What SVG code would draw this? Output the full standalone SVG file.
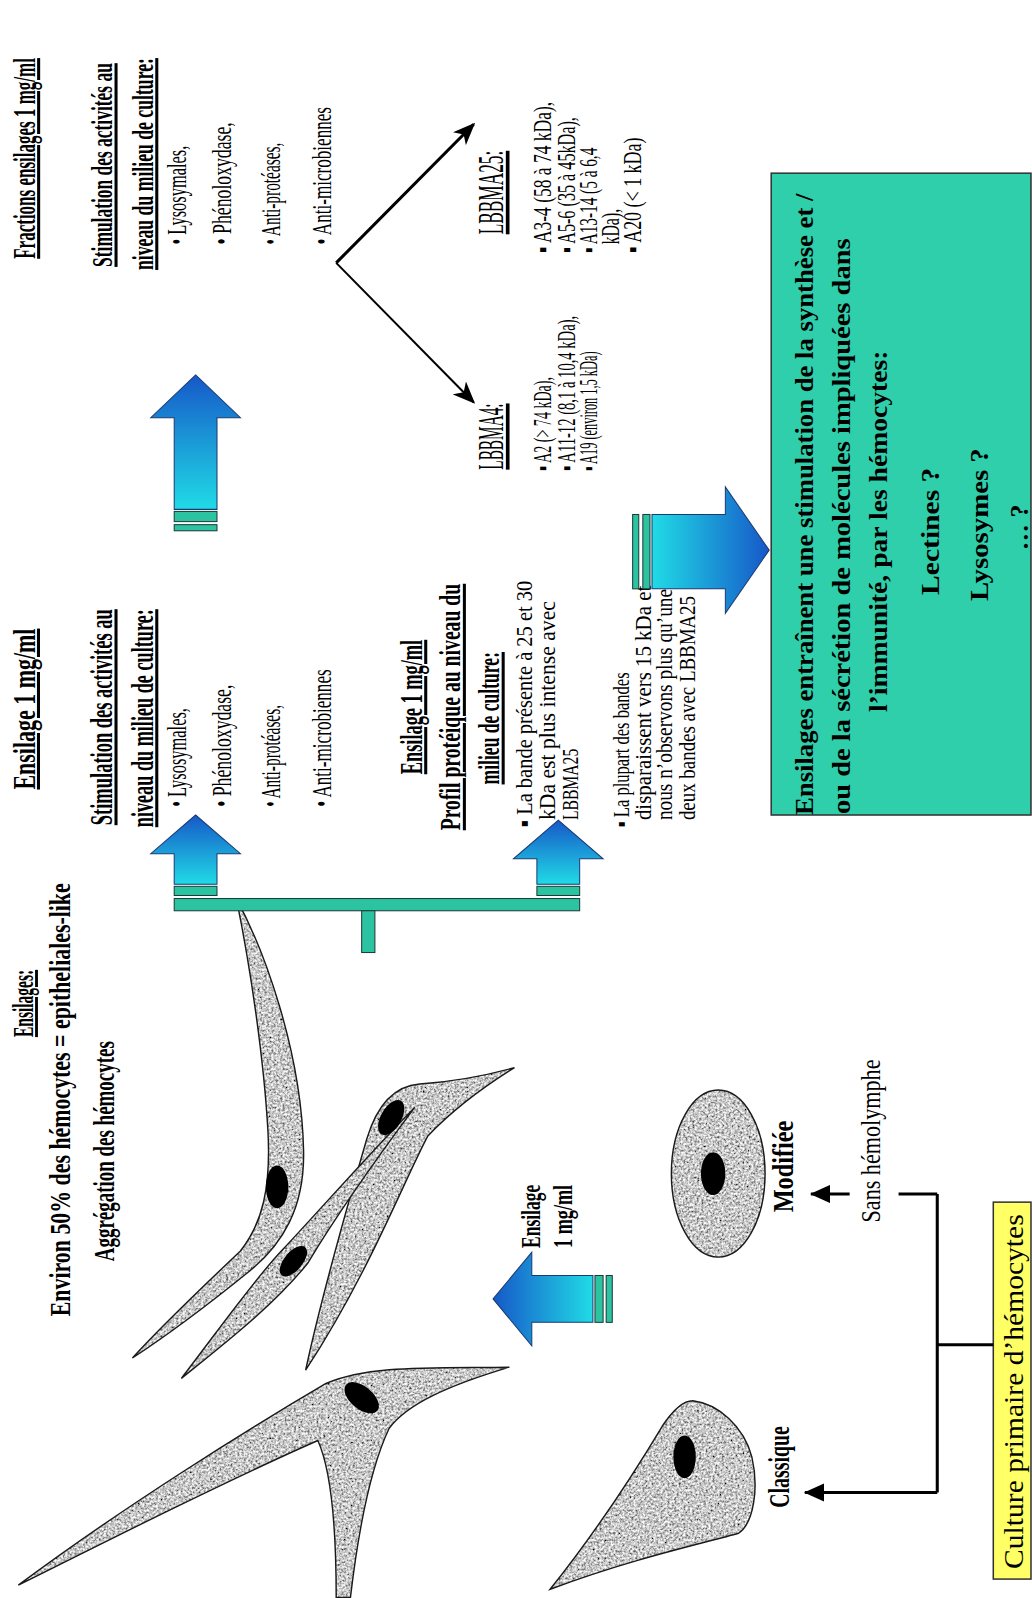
<svg xmlns="http://www.w3.org/2000/svg" width="1032" height="1598" viewBox="0 0 1032 1598">
  <style>
    .t { font-family: "Liberation Serif", "Times New Roman", serif; fill: #000; }
    .b { font-weight: bold; }
    .u { text-decoration: underline; }
    .cellfill { filter: url(#grain); fill: #999; }
    .cellline { fill: none; stroke: #1a1a1a; stroke-width: 1.4; }
    .nuc { fill: #000; }
    .band { fill: #2cc3a0; stroke: #1c3a3a; stroke-width: 1; }
    .blk { fill: none; stroke: #000; stroke-width: 3; }
  </style>
  <defs>
    <linearGradient id="gUp" x1="0" y1="0" x2="0" y2="1">
      <stop offset="0" stop-color="#1658c8"/>
      <stop offset="1" stop-color="#20dbe6"/>
    </linearGradient>
    <linearGradient id="gLeft" x1="0" y1="0" x2="1" y2="0">
      <stop offset="0" stop-color="#1658c8"/>
      <stop offset="1" stop-color="#20dbe6"/>
    </linearGradient>
    <linearGradient id="gRight" x1="1" y1="0" x2="0" y2="0">
      <stop offset="0" stop-color="#1658c8"/>
      <stop offset="1" stop-color="#20dbe6"/>
    </linearGradient>
    <filter id="grain" x="0" y="0" width="100%" height="100%">
      <feTurbulence type="fractalNoise" baseFrequency="0.45" numOctaves="3" seed="5" result="n"/>
      <feColorMatrix in="n" type="matrix" values="1.6 0 0 0 -0.22  1.6 0 0 0 -0.22  1.6 0 0 0 -0.22  0 0 0 0 1" result="g"/>
      <feComposite in="g" in2="SourceGraphic" operator="in"/>
    </filter>
    <marker id="hv" markerUnits="userSpaceOnUse" markerWidth="22" markerHeight="18" viewBox="0 0 22 18" refX="20" refY="9" orient="auto">
      <path d="M0 0 L22 9 L0 18 L6 9 Z" fill="#000"/>
    </marker>
    <marker id="hc" markerUnits="userSpaceOnUse" markerWidth="20" markerHeight="18" viewBox="0 0 20 18" refX="19" refY="9" orient="auto">
      <path d="M0 0 L20 9 L0 18 Z" fill="#000"/>
    </marker>
    <path id="cellA" d="M232 882 C258 930 296 1030 298 1130 C299 1185 278 1222 242 1250 C205 1280 165 1310 130 1333 C160 1300 200 1262 236 1228 C258 1200 266 1165 263 1110 C259 1040 246 950 232 882 Z"/>
    <path id="cellB" d="M178 1353 C215 1305 250 1255 278 1226 C310 1192 360 1135 407 1087 C375 1130 335 1185 302 1240 C270 1280 225 1315 178 1353 Z"/>
    <path id="cellC" d="M300 1345 C316 1270 342 1180 360 1118 C369 1088 385 1066 412 1064 C442 1062 476 1056 505 1048 C476 1066 444 1090 420 1115 C396 1160 362 1250 300 1345 Z"/>
    <path id="cellD" d="M18 1556 C120 1480 240 1405 320 1358 C362 1340 420 1343 500 1342 C440 1360 400 1378 382 1402 C364 1440 352 1500 344 1568 L330 1568 C330 1500 326 1445 312 1414 C230 1450 120 1505 18 1556 Z"/>
    <path id="cellCl" d="M680 1375 C705 1378 730 1400 738 1430 C745 1460 740 1495 725 1505 C690 1515 620 1530 540 1560 C580 1510 620 1450 650 1400 C660 1385 670 1375 680 1375 Z"/>
  </defs>

  <rect x="0" y="0" width="1032" height="1598" fill="#fff"/>

  <g transform="scale(1.01876)">

    <!-- aggregated hemocytes -->
    <g id="cells-aggregated">
      <use href="#cellA" class="cellfill"/><use href="#cellA" class="cellline"/>
      <use href="#cellC" class="cellfill"/><use href="#cellC" class="cellline"/>
      <use href="#cellB" class="cellfill"/><use href="#cellB" class="cellline"/>
      <ellipse class="nuc" cx="272" cy="1165" rx="11" ry="21"/>
      <ellipse class="nuc" cx="288" cy="1238" rx="18" ry="9" transform="rotate(-50 288 1238)"/>
      <ellipse class="nuc" cx="384" cy="1097" rx="19" ry="10" transform="rotate(-60 384 1097)"/>
    </g>
    <g id="cell-epithelial">
      <use href="#cellD" class="cellfill"/><use href="#cellD" class="cellline"/>
      <ellipse class="nuc" cx="355" cy="1372" rx="20" ry="11" transform="rotate(40 355 1372)"/>
    </g>
    <g id="cell-classique">
      <use href="#cellCl" class="cellfill"/><use href="#cellCl" class="cellline"/>
      <ellipse class="nuc" cx="672" cy="1430" rx="11" ry="21"/>
    </g>
    <g id="cell-modifiee">
      <ellipse class="cellfill" cx="705" cy="1152" rx="46" ry="82"/>
      <ellipse class="cellline" cx="705" cy="1152" rx="46" ry="82"/>
      <ellipse class="nuc" cx="700" cy="1152" rx="12" ry="21"/>
    </g>

    <!-- text blocks: written bottom-to-top, condensed type (scale stretches glyph height) -->
    <g id="ensilages-summary">
      <text class="t b u" font-size="15.2" textLength="66" lengthAdjust="spacingAndGlyphs" transform="translate(32 1018) rotate(-90) scale(1 1.84)">Ensilages:</text>
      <text class="t b" font-size="21.2" textLength="425" lengthAdjust="spacingAndGlyphs" transform="translate(69 1292) rotate(-90) scale(1 1.32)">Environ 50% des hémocytes = epitheliales-like</text>
      <text class="t b" font-size="18.6" textLength="216" lengthAdjust="spacingAndGlyphs" transform="translate(112 1238) rotate(-90) scale(1 1.51)">Aggrégation des hémocytes</text>
    </g>

    <g id="ensilage-activites">
      <text class="t b u" font-size="21.5" textLength="158" lengthAdjust="spacingAndGlyphs" transform="translate(34 775) rotate(-90) scale(1 1.4)">Ensilage 1 mg/ml</text>
      <text class="t b u" font-size="18.1" textLength="212" lengthAdjust="spacingAndGlyphs" transform="translate(110 810) rotate(-90) scale(1 1.66)">Stimulation des activités au</text>
      <text class="t b u" font-size="17.8" textLength="214" lengthAdjust="spacingAndGlyphs" transform="translate(150 812) rotate(-90) scale(1 1.69)">niveau du milieu de culture:</text>
      <text class="t" font-size="16" textLength="97" lengthAdjust="spacingAndGlyphs" transform="translate(183 792) rotate(-90) scale(1 1.62)">• Lysosymales,</text>
      <text class="t" font-size="17.4" textLength="120" lengthAdjust="spacingAndGlyphs" transform="translate(227 792) rotate(-90) scale(1 1.49)">• Phénoloxydase,</text>
      <text class="t" font-size="15" textLength="100" lengthAdjust="spacingAndGlyphs" transform="translate(275 792) rotate(-90) scale(1 1.73)">• Anti-protéases,</text>
      <text class="t" font-size="16.7" textLength="135" lengthAdjust="spacingAndGlyphs" transform="translate(325 792) rotate(-90) scale(1 1.56)">• Anti-microbiennes</text>
    </g>

    <g id="fractions-activites">
      <text class="t b u" font-size="16.7" textLength="197" lengthAdjust="spacingAndGlyphs" transform="translate(34 254) rotate(-90) scale(1 1.8)">Fractions ensilages 1 mg/ml</text>
      <text class="t b u" font-size="17.1" textLength="200" lengthAdjust="spacingAndGlyphs" transform="translate(110 262) rotate(-90) scale(1 1.75)">Stimulation des activités au</text>
      <text class="t b u" font-size="17.3" textLength="208" lengthAdjust="spacingAndGlyphs" transform="translate(150 265) rotate(-90) scale(1 1.73)">niveau du milieu de culture:</text>
      <text class="t" font-size="16" textLength="97" lengthAdjust="spacingAndGlyphs" transform="translate(183 240) rotate(-90) scale(1 1.62)">• Lysosymales,</text>
      <text class="t" font-size="17.4" textLength="120" lengthAdjust="spacingAndGlyphs" transform="translate(227 240) rotate(-90) scale(1 1.49)">• Phénoloxydase,</text>
      <text class="t" font-size="15" textLength="100" lengthAdjust="spacingAndGlyphs" transform="translate(275 240) rotate(-90) scale(1 1.73)">• Anti-protéases,</text>
      <text class="t" font-size="16.7" textLength="135" lengthAdjust="spacingAndGlyphs" transform="translate(325 240) rotate(-90) scale(1 1.56)">• Anti-microbiennes</text>
    </g>

    <g id="lbbma4">
      <text class="t u" font-size="15" textLength="65" lengthAdjust="spacingAndGlyphs" transform="translate(494 461) rotate(-90) scale(1 2.4)">LBBMA4:</text>
      <text class="t" font-size="13.2" textLength="92" lengthAdjust="spacingAndGlyphs" transform="translate(541 462) rotate(-90) scale(1 1.82)">▪ A2 (&gt; 74 kDa),</text>
      <text class="t" font-size="13.9" textLength="152" lengthAdjust="spacingAndGlyphs" transform="translate(564 462) rotate(-90) scale(1 1.72)">▪ A11-12 (8,1 à 10,4 kDa),</text>
      <text class="t" font-size="11.7" textLength="117" lengthAdjust="spacingAndGlyphs" transform="translate(586 462) rotate(-90) scale(1 2.05)">▪ A19 (environ 1,5 kDa)</text>
    </g>

    <g id="lbbma25">
      <text class="t u" font-size="17" textLength="82" lengthAdjust="spacingAndGlyphs" transform="translate(494 230) rotate(-90) scale(1 2.12)">LBBMA25:</text>
      <text class="t" font-size="16.6" textLength="148" lengthAdjust="spacingAndGlyphs" transform="translate(541 248) rotate(-90) scale(1 1.45)">▪ A3-4 (58 à 74 kDa),</text>
      <text class="t" font-size="15.3" textLength="133" lengthAdjust="spacingAndGlyphs" transform="translate(564 248) rotate(-90) scale(1 1.57)">▪ A5-6 (35 à 45kDa),</text>
      <text class="t" font-size="14.3" textLength="103" lengthAdjust="spacingAndGlyphs" transform="translate(586 248) rotate(-90) scale(1 1.68)">▪ A13-14 (5 à 6,4</text>
      <text class="t" font-size="15.6" textLength="35" lengthAdjust="spacingAndGlyphs" transform="translate(608 240) rotate(-90) scale(1 1.54)">kDa),</text>
      <text class="t" font-size="16.8" textLength="113" lengthAdjust="spacingAndGlyphs" transform="translate(629 248) rotate(-90) scale(1 1.43)">▪ A20 (&lt; 1 kDa)</text>
    </g>

    <g id="profil-proteique">
      <text class="t b u" font-size="18" textLength="132" lengthAdjust="spacingAndGlyphs" transform="translate(414 760) rotate(-90) scale(1 1.67)">Ensilage 1 mg/ml</text>
      <text class="t b u" font-size="19.3" textLength="242" lengthAdjust="spacingAndGlyphs" transform="translate(452 815) rotate(-90) scale(1 1.55)">Profil protéique au niveau du</text>
      <text class="t b u" font-size="17.2" textLength="130" lengthAdjust="spacingAndGlyphs" transform="translate(490 770) rotate(-90) scale(1 1.74)">milieu de culture:</text>
      <text class="t" font-size="19.7" textLength="242" lengthAdjust="spacingAndGlyphs" transform="translate(522 812) rotate(-90) scale(1 1.18)">▪ La bande présente à 25 et 30</text>
      <text class="t" font-size="21.3" textLength="215" lengthAdjust="spacingAndGlyphs" transform="translate(545 805) rotate(-90) scale(1 1.08)">kDa est plus intense avec</text>
      <text class="t" font-size="15.4" textLength="70" lengthAdjust="spacingAndGlyphs" transform="translate(567 805) rotate(-90) scale(1 1.5)">LBBMA25</text>
      <text class="t" font-size="15.8" textLength="152" lengthAdjust="spacingAndGlyphs" transform="translate(617 812) rotate(-90) scale(1 1.46)">▪ La plupart des bandes</text>
      <text class="t" font-size="20.5" textLength="230" lengthAdjust="spacingAndGlyphs" transform="translate(639 805) rotate(-90) scale(1 1.12)">disparaissent vers 15 kDa et</text>
      <text class="t" font-size="18.9" textLength="240" lengthAdjust="spacingAndGlyphs" transform="translate(660 805) rotate(-90) scale(1 1.22)">nous n’observons plus qu’une à</text>
      <text class="t" font-size="18.5" textLength="220" lengthAdjust="spacingAndGlyphs" transform="translate(682 805) rotate(-90) scale(1 1.25)">deux bandes avec LBBMA25</text>
    </g>

    <g id="conclusion">
      <rect x="757" y="170" width="255" height="630" fill="#2ecfaa" stroke="#333" stroke-width="1.5"/>
      <text class="t b" font-size="25.9" fill="#111" textLength="610" lengthAdjust="spacingAndGlyphs" transform="translate(798 800) rotate(-90) scale(1 0.93)">Ensilages entraînent une stimulation de la synthèse et /</text>
      <text class="t b" font-size="28" fill="#111" textLength="565" lengthAdjust="spacingAndGlyphs" transform="translate(834 799) rotate(-90) scale(1 0.86)">ou de la sécrétion de molécules impliquées dans</text>
      <text class="t b" font-size="27.1" fill="#111" textLength="355" lengthAdjust="spacingAndGlyphs" transform="translate(871 699) rotate(-90) scale(1 0.89)">l’immunité, par les hémocytes:</text>
      <text class="t b" font-size="29.1" fill="#111" textLength="125" lengthAdjust="spacingAndGlyphs" transform="translate(922 584) rotate(-90) scale(1 0.82)">Lectines ?</text>
      <text class="t b" font-size="28" fill="#111" textLength="150" lengthAdjust="spacingAndGlyphs" transform="translate(970 590) rotate(-90) scale(1 0.86)">Lysosymes ?</text>
      <text class="t b" font-size="25.7" fill="#111" textLength="45" lengthAdjust="spacingAndGlyphs" transform="translate(1009 540) rotate(-90) scale(1 0.93)">… ?</text>
    </g>

    <g id="culture-primaire">
      <rect x="975" y="1180" width="37" height="370" fill="#ffff66" stroke="#333" stroke-width="1.5"/>
      <text class="t" font-size="29" textLength="348" lengthAdjust="spacingAndGlyphs" transform="translate(1004 1540) rotate(-90) scale(1 0.9)">Culture primaire d’hémocytes</text>
    </g>

    <g id="labels-culture">
      <text class="t b" font-size="23.8" textLength="90" lengthAdjust="spacingAndGlyphs" transform="translate(778 1190) rotate(-90) scale(1 1.18)">Modifiée</text>
      <text class="t b" font-size="19.5" textLength="80" lengthAdjust="spacingAndGlyphs" transform="translate(774 1480) rotate(-90) scale(1 1.44)">Classique</text>
      <text class="t" font-size="21.7" textLength="160" lengthAdjust="spacingAndGlyphs" transform="translate(864 1200) rotate(-90) scale(1 1.24)">Sans hémolymphe</text>
      <text class="t b" font-size="17.2" textLength="62" lengthAdjust="spacingAndGlyphs" transform="translate(530 1225) rotate(-90) scale(1 1.57)">Ensilage</text>
      <text class="t b" font-size="17.9" textLength="62" lengthAdjust="spacingAndGlyphs" transform="translate(561 1225) rotate(-90) scale(1 1.51)">1 mg/ml</text>
    </g>

    <!-- connectors -->
    <g id="connectors">
      <!-- block arrows -->
      <path d="M192 368 L236 410 L213 410 L213 500 L171 500 L171 410 L148 410 Z" fill="url(#gUp)" stroke="#1b3b70" stroke-width="1"/>
      <rect class="band" x="171" y="502" width="42" height="10"/>
      <rect class="band" x="171" y="515" width="42" height="6"/>

      <path d="M192 800 L236 838 L213 838 L213 868 L171 868 L171 838 L148 838 Z" fill="url(#gUp)" stroke="#1b3b70" stroke-width="1"/>
      <rect class="band" x="171" y="870" width="42" height="9"/>
      <path d="M548 805 L592 843 L569 843 L569 868 L527 868 L527 843 L504 843 Z" fill="url(#gUp)" stroke="#1b3b70" stroke-width="1"/>
      <rect class="band" x="527" y="870" width="42" height="9"/>
      <rect class="band" x="171" y="882" width="398" height="12"/>
      <rect class="band" x="355" y="894" width="13" height="41"/>

      <path d="M484 1275 L522 1229 L522 1252 L582 1252 L582 1298 L522 1298 L522 1321 Z" fill="url(#gLeft)" stroke="#1b3b70" stroke-width="1"/>
      <rect class="band" x="584" y="1252" width="8" height="46"/>
      <rect class="band" x="595" y="1252" width="6" height="46"/>

      <path d="M755 540 L712 478 L712 505 L640 505 L640 578 L712 578 L712 602 Z" fill="url(#gRight)" stroke="#1b3b70" stroke-width="1"/>
      <rect class="band" x="631" y="505" width="7" height="73"/>
      <rect class="band" x="621" y="505" width="6" height="73"/>

      <!-- branching to fractions -->
      <line x1="330" y1="258" x2="465" y2="395" stroke="#000" stroke-width="2" marker-end="url(#hv)"/>
      <line x1="330" y1="258" x2="465" y2="122" stroke="#000" stroke-width="3" marker-end="url(#hv)"/>

      <!-- primary culture tree -->
      <polyline class="blk" points="975,1320 920,1320"/>
      <polyline class="blk" points="920,1172 920,1465"/>
      <polyline class="blk" points="920,1465 790,1465" marker-end="url(#hc)"/>
      <polyline class="blk" points="920,1172 882,1172"/>
      <polyline class="blk" points="834,1172 796,1172" marker-end="url(#hc)"/>
    </g>
  </g>
</svg>
